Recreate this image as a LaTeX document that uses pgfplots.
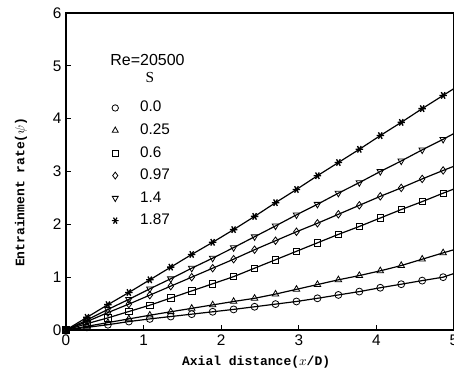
\documentclass[border=0pt]{standalone}
\usepackage{fontspec}
\setmainfont{Liberation Sans}
\setmonofont{Liberation Mono}
\newfontfamily\serifref{Liberation Serif}
\usepackage{pgfplots}
\usepackage{pgfplotstable}
\pgfplotsset{compat=1.18}
\pgfplotstableread{
x s00 s025 s06 s097 s14 s187
0 0 0 0 0 0 0
0.27 0.05 0.07 0.12 0.16 0.19 0.24
0.54 0.10 0.14 0.23 0.33 0.39 0.48
0.81 0.16 0.21 0.35 0.49 0.58 0.71
1.08 0.21 0.28 0.47 0.66 0.78 0.95
1.35 0.255 0.345 0.605 0.83 0.97 1.19
1.62 0.30 0.41 0.74 1.00 1.17 1.43
1.89 0.345 0.475 0.875 1.17 1.36 1.66
2.16 0.39 0.54 1.01 1.34 1.56 1.90
2.43 0.44 0.60 1.17 1.52 1.765 2.15
2.70 0.49 0.68 1.33 1.69 1.97 2.41
2.97 0.54 0.77 1.49 1.86 2.18 2.66
3.24 0.60 0.86 1.65 2.02 2.38 2.92
3.51 0.664 0.95 1.81 2.19 2.59 3.17
3.78 0.727 1.03 1.96 2.36 2.79 3.42
4.05 0.80 1.12 2.12 2.53 3.00 3.68
4.32 0.867 1.22 2.28 2.69 3.20 3.93
4.59 0.935 1.34 2.43 2.86 3.41 4.19
4.86 1.00 1.46 2.59 3.02 3.61 4.44
5.00 1.07 1.52 2.67 3.10 3.72 4.57
}\datatable
\pgfplotsset{series/.style={black, line width=0.9pt, forget plot,
  mark indices={1,2,3,4,5,6,7,8,9,10,11,12,13,14,15,16,17,18,19}}}
\begin{document}
\begin{tikzpicture}
\begin{axis}[
  scale only axis, width=291pt, height=237.75pt,
  xmin=0, xmax=5, ymin=0, ymax=6,
  xtick={0,1,2,3,4,5}, ytick={0,1,2,3,4,5,6},
  xtick pos=bottom, ytick pos=left, tick align=inside,
  major tick length=3.75pt,
  axis line style={line width=1.2pt},
  every tick/.style={line width=0.9pt, black},
  /pgf/number format/assume math mode=true,
  tick label style={font=\fontsize{11.5}{13}\selectfont},
  xlabel={\ttfamily\bfseries Axial distance($x$/D)},
  ylabel={\ttfamily\bfseries Entrainment rate($\psi$)},
  label style={font=\fontsize{9.75}{11}\selectfont},
  x label style={at={(axis description cs:0.49,-0.101)}, anchor=center},
  y label style={at={(axis description cs:-0.116,0.435)}, anchor=center},
  clip=false,
  legend style={draw=none, fill=none, at={(axis description cs:0.118,0.736)}, anchor=north west,
    inner sep=0pt, outer sep=0pt, column sep=16pt,
    font=\fontsize{11.5}{12}\selectfont,
    nodes={inner sep=0pt, text height=11.45pt, text depth=5.45pt}},
  legend cell align=left,
]
\addlegendimage{only marks, mark=o, mark size=2.4pt, black, mark options={line width=0.6pt}}
\addlegendentry{0.0}
\addlegendimage{only marks, mark=triangle, mark size=2.6pt, black, mark options={line width=0.6pt}}
\addlegendentry{0.25}
\addlegendimage{only marks, mark=square, mark size=2.2pt, black, mark options={line width=0.6pt}}
\addlegendentry{0.6}
\addlegendimage{only marks, mark=diamond, mark size=2.6pt, black, mark options={line width=0.6pt}}
\addlegendentry{0.97}
\addlegendimage{only marks, mark=triangle, mark size=2.6pt, black, mark options={line width=0.6pt, rotate=180}}
\addlegendentry{1.4}
\addlegendimage{only marks, mark=asterisk, mark size=2.6pt, black, mark options={line width=0.9pt, rotate=90}}
\addlegendentry{1.87}

\addplot[series, mark=o, mark size=2.6pt, mark options={solid, line width=0.6pt, fill=white}] table[x=x, y=s00] {\datatable};
\addplot[series, mark=triangle, mark size=2.8pt, mark options={solid, line width=0.6pt, fill=white}] table[x=x, y=s025] {\datatable};
\addplot[series, mark=square, mark size=2.4pt, mark options={solid, line width=0.6pt, fill=white}] table[x=x, y=s06] {\datatable};
\addplot[series, mark=diamond, mark size=2.8pt, mark options={solid, line width=0.6pt, fill=white}] table[x=x, y=s097] {\datatable};
\addplot[series, mark=triangle, mark size=2.8pt, mark options={solid, line width=0.6pt, fill=white, rotate=180}] table[x=x, y=s14] {\datatable};
\addplot[series, mark=asterisk, mark size=2.8pt, mark options={solid, line width=1pt, rotate=90}] table[x=x, y=s187] {\datatable};

\node[font=\fontsize{12}{13}\selectfont] at (axis cs:1.05,5.12) {Re=20500};
\node[font=\serifref\fontsize{11.5}{12}\selectfont] at (axis cs:1.08,4.78) {S};
\end{axis}
\pgfresetboundingbox
\path[use as bounding box] ([xshift=-49.5pt,yshift=-36pt]current axis.south west) rectangle ([yshift=9.75pt]current axis.north east);
\end{tikzpicture}
\end{document}
